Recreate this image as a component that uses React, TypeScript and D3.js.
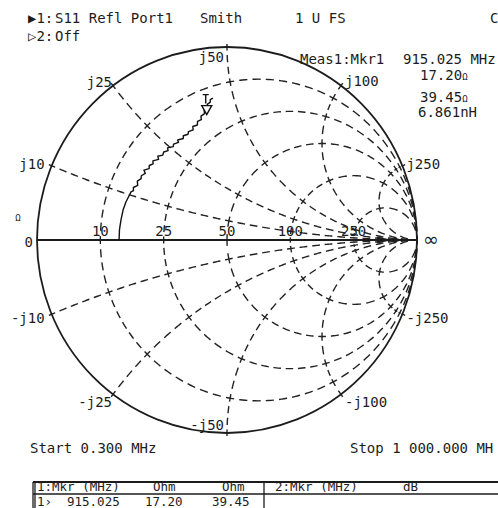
import React, { useMemo } from "react";
import * as d3 from "d3";

const Z0 = 50;
const resistanceTicks = [10, 25, 50, 100, 250];
const reactanceTicks = [10, 25, 50, 100, 250];

// S11 trace, reflection coefficient (0.3 MHz -> 1 GHz)
const traceRe = [
  -0.568, -0.566, -0.558, -0.547, -0.532, -0.516, -0.505, -0.492, -0.493, -0.47,
  -0.472, -0.452, -0.451, -0.43, -0.437, -0.41, -0.409, -0.389, -0.39, -0.36,
  -0.364, -0.338, -0.333, -0.31, -0.313, -0.283, -0.281, -0.255, -0.26, -0.23,
  -0.23, -0.205, -0.203, -0.178, -0.18, -0.156, -0.155, -0.135, -0.137, -0.118,
  -0.12, -0.102, -0.104, -0.088, -0.088, -0.074,
];
const traceIm = [
  0, 0.052, 0.104, 0.155, 0.197, 0.228, 0.249, 0.256, 0.272, 0.283,
  0.305, 0.318, 0.333, 0.345, 0.362, 0.37, 0.386, 0.395, 0.41, 0.418,
  0.434, 0.44, 0.456, 0.463, 0.477, 0.484, 0.497, 0.506, 0.518, 0.526,
  0.54, 0.548, 0.562, 0.571, 0.588, 0.596, 0.614, 0.624, 0.642, 0.655,
  0.673, 0.686, 0.703, 0.714, 0.727, 0.735,
];

const markerFreq = "915.025";
const markerR = 17.2;
const markerX = 39.45;
const markerL = "6.861nH";

const FONT = "'DejaVu Sans Mono', monospace";
const INK = "#1c1c1c";

function gamma(r: number, x: number): [number, number] {
  const d = (r + 1) * (r + 1) + x * x;
  return [(r * r + x * x - 1) / d, (2 * x) / d];
}

// label offsets relative to the tick where each reactance arc meets the rim
const xLabelPos: Record<string, { dx: number; dy: number; anchor: string }> = {
  "10": { dx: -7, dy: 3, anchor: "end" },
  "-10": { dx: -7, dy: 9, anchor: "end" },
  "25": { dx: -1, dy: 1, anchor: "end" },
  "-25": { dx: -1, dy: 13, anchor: "end" },
  "50": { dx: -3, dy: 15, anchor: "end" },
  "-50": { dx: -3, dy: -3, anchor: "end" },
  "100": { dx: 4, dy: 0, anchor: "start" },
  "-100": { dx: 4, dy: 13, anchor: "start" },
  "250": { dx: 4, dy: 3, anchor: "start" },
  "-250": { dx: 4, dy: 9, anchor: "start" },
};

export default function App() {
  const W = 498;
  const H = 508;
  const x = d3.scaleLinear().domain([-1, 1]).range([37, 417]);
  const y = d3.scaleLinear().domain([-1, 1]).range([433, 47]);
  const px = (g: [number, number]): [number, number] => [x(g[0]), y(g[1])];
  const line = d3.line<[number, number]>();

  const grid = useMemo(() => {
    const segs: { d: string; dash: string; off: number }[] = [];
    const add = (fn: (p: number) => [number, number], a: number, b: number) => {
      const pts = d3.range(41).map(i => px(fn(Math.tan(a + ((b - a) * i) / 40))));
      let L = 0;
      for (let i = 1; i < pts.length; i++) L += Math.hypot(pts[i][0] - pts[i - 1][0], pts[i][1] - pts[i - 1][1]);
      const n = Math.max(1, Math.round(L / 13));
      const p = L / n;
      const dash = (p * 8) / 13;
      segs.push({ d: line(pts) || "", dash: `${dash} ${p - dash}`, off: dash / 2 });
    };
    const xs = reactanceTicks.map(v => v / Z0);
    const rs = resistanceTicks.map(v => v / Z0);
    const tBreaks = [-Math.PI / 2, ...xs.slice().reverse().map(v => -Math.atan(v)), 0, ...xs.map(v => Math.atan(v)), Math.PI / 2];
    rs.forEach(r => {
      for (let i = 0; i < tBreaks.length - 1; i++) add(t => gamma(r, t), tBreaks[i], tBreaks[i + 1]);
    });
    const sBreaks = [0, ...rs.map(v => Math.atan(v)), Math.PI / 2];
    [...xs, ...xs.map(v => -v)].forEach(xv => {
      for (let i = 0; i < sBreaks.length - 1; i++) add(s => gamma(s, xv), sBreaks[i], sBreaks[i + 1]);
    });
    return segs;
  }, []);

  const rimTicks = [...reactanceTicks, ...reactanceTicks.map(v => -v)].map(v => {
    const p0 = px(gamma(0, v / Z0));
    const p1 = px(gamma(0.03, v / Z0));
    const len = Math.hypot(p0[0] - p1[0], p0[1] - p1[1]);
    const dir = [(p0[0] - p1[0]) / len, (p0[1] - p1[1]) / len];
    return { v, p0, p1: [p0[0] + dir[0] * 3, p0[1] + dir[1] * 3] as [number, number] };
  });

  const tracePts = traceRe.map((re, i) => px([re, traceIm[i]]));
  const mk = px(gamma(markerR / Z0, markerX / Z0));

  const cx = x(0);
  const cy = y(0);
  const txt = { fontFamily: FONT, fontSize: 14, fill: INK } as const;

  return (
    <svg width={W} height={H} style={{ position: "absolute", left: 0, top: 0, background: "#fff" }}>
      {/* header */}
      <text x={28} y={23} {...txt}>▶1:</text>
      <text x={55} y={23} {...txt}>S11 Refl Port1</text>
      <text x={200} y={23} {...txt}>Smith</text>
      <text x={295} y={23} {...txt}>1 U FS</text>
      <text x={490} y={23} {...txt}>C</text>
      <text x={28} y={41} {...txt}>▷2:</text>
      <text x={55} y={41} {...txt}>Off</text>

      {/* grid */}
      <g fill="none" stroke="#222" strokeWidth={1.4}>
        {grid.map((s, i) => (
          <path key={i} d={s.d} strokeDasharray={s.dash} strokeDashoffset={s.off} />
        ))}
        {rimTicks.map(t => (
          <line key={t.v} x1={t.p0[0]} y1={t.p0[1]} x2={t.p1[0]} y2={t.p1[1]} />
        ))}
      </g>
      <ellipse cx={cx} cy={cy} rx={x(1) - cx} ry={cy - y(1)} fill="none" stroke={INK} strokeWidth={1.8} />
      <line x1={x(-1)} x2={x(1)} y1={cy} y2={cy} stroke={INK} strokeWidth={2} />

      {/* reference arrows at the open end */}
      <path d={`M${x(0.79)},${cy - 3.5}L${x(0.87)},${cy}L${x(0.79)},${cy + 3.5}Z`} fill={INK} />
      <path d={`M${x(0.885)},${cy - 2.5}L${x(0.92)},${cy}L${x(0.885)},${cy + 2.5}Z`} fill={INK} />

      {/* resistance labels */}
      {resistanceTicks.map(v => (
        <text key={v} x={x(gamma(v / Z0, 0)[0])} y={cy - 4} textAnchor="middle" {...txt}>{v}</text>
      ))}
      {/* reactance labels */}
      {rimTicks.map(t => {
        const o = xLabelPos[String(t.v)];
        return (
          <text key={t.v} x={t.p0[0] + o.dx} y={t.p0[1] + o.dy} textAnchor={o.anchor} {...txt}>
            {t.v < 0 ? `-j${-t.v}` : `j${t.v}`}
          </text>
        );
      })}
      <text x={33} y={247} textAnchor="end" {...txt}>0</text>
      <text x={18} y={221} textAnchor="middle" fontFamily={FONT} fontSize={9} fill={INK}>Ω</text>
      <text x={431} y={246} textAnchor="middle" fontFamily="'DejaVu Sans', sans-serif" fontSize={19} fill={INK}>∞</text>

      {/* trace */}
      <path d={line(tracePts) || ""} fill="none" stroke="#111" strokeWidth={1.4} strokeLinejoin="round" />

      {/* marker 1 */}
      <path d={`M${mk[0] - 5},${mk[1] - 9}L${mk[0] + 5},${mk[1] - 9}L${mk[0]},${mk[1]}Z`} fill="#fff" stroke="#111" strokeWidth={1.4} />
      <path d={`M${mk[0] - 1},${mk[1] - 11}V${mk[1] - 20}M${mk[0] - 4},${mk[1] - 20}H${mk[0] + 2}`} fill="none" stroke="#111" strokeWidth={1.4} />

      {/* marker readout */}
      <text x={300} y={64} {...txt}>Meas1:Mkr1</text>
      <text x={403} y={64} {...txt}>{markerFreq} MHz</text>
      <text x={420} y={80} {...txt}>{markerR.toFixed(2)}<tspan fontSize={9}>Ω</tspan></text>
      <text x={420} y={102} {...txt}>{markerX.toFixed(2)}<tspan fontSize={9}>Ω</tspan></text>
      <text x={418} y={117} {...txt}>{markerL}</text>

      {/* footer */}
      <text x={30} y={453} {...txt}>Start 0.300 MHz</text>
      <text x={350} y={453} {...txt}>Stop 1 000.000 MH</text>

      <g stroke={INK} strokeWidth={1.3} fill="none">
        <line x1={33} x2={W} y1={482} y2={482} strokeWidth={1.8} />
        <line x1={33} x2={W} y1={494} y2={494} />
        <line x1={33} x2={33} y1={482} y2={H} />
        <line x1={35} x2={35} y1={482} y2={H} />
        <line x1={264} x2={264} y1={482} y2={H} />
      </g>
      <g fontFamily={FONT} fontSize={12.5} fill={INK}>
        <text x={37} y={491}>1:Mkr (MHz)</text>
        <text x={153} y={491}>Ohm</text>
        <text x={222} y={491}>Ohm</text>
        <text x={275} y={491}>2:Mkr (MHz)</text>
        <text x={403} y={491}>dB</text>
        <text x={37} y={506}>1›</text>
        <text x={67} y={506}>{markerFreq}</text>
        <text x={145} y={506}>{markerR.toFixed(2)}</text>
        <text x={212} y={506}>{markerX.toFixed(2)}</text>
      </g>
    </svg>
  );
}
